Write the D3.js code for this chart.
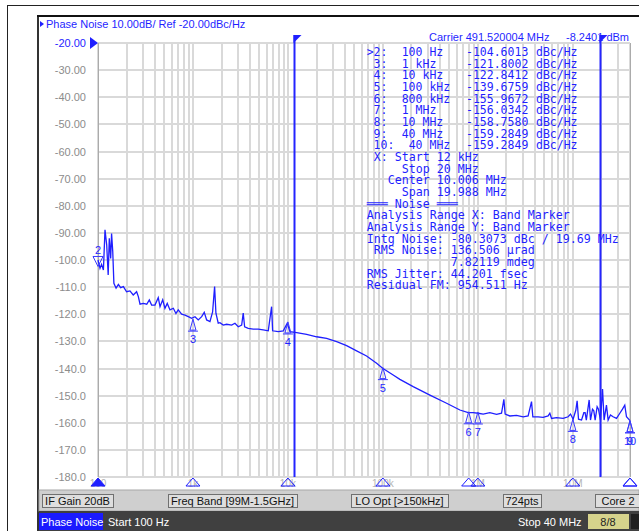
<!DOCTYPE html>
<html>
<head>
<meta charset="utf-8">
<script src="https://cdn.jsdelivr.net/npm/d3@7"></script>
<style>
body { margin: 0; background: #fff; }
svg { display: block; }
text { white-space: pre; }
</style>
</head>
<body>
<svg id="chart" width="639" height="531"></svg>
<script>
// trace (Hz, dBc/Hz)
var freqs = [100,105,109,114,118.5,123.5,128,131.5,136,139,143,147,155,164,173,185,200,217,235,255,266,277,300,326,347,367,398,431,450,480,507,536,573,621,662,700,760,824,893,968,1050,1137,1235,1315,1393,1510,1610,1690,1745,1845,1923,2084,2265,2554,2767,3000,3258,3383,3500,3819,4313,4866,5495,6207,6730,6900,7907,8933,9840,10500,12360,15740,20050,25530,32580,41500,52840,67300,85900,99300,128300,151000,208400,312600,468800,647000,791000,893000,1007000,1138000,1337000,1574000,1775000,1879000,1938000,2172000,2553000,3000000,3383000,3673000,3793000,4315000,4866000,5495000,5730000,5970000,6730000,7907000,8930000,9460000,10070000,10760000,11100000,11480000,12360000,13060000,13470000,13870000,14860000,15350000,16110000,16630000,17180000,18030000,18620000,19550000,20550000,21340000,22600000,23540000,24900000,26550000,28840000,31260000,33340000,35250000,36730000,40000000];
var noise = [-100.0,-103.1,-101.6,-103.7,-88.9,-94.5,-105.5,-92.0,-99.4,-90.2,-96.9,-108.6,-110.4,-109.0,-110.2,-109.8,-111.7,-111.4,-112.9,-111.7,-113.5,-116.3,-116.0,-116.3,-114.7,-116.6,-116.6,-113.9,-117.2,-114.7,-117.8,-116.0,-118.4,-117.8,-119.7,-118.4,-120.0,-120.3,-120.9,-121.5,-120.9,-122.1,-120.9,-119.3,-122.1,-122.7,-119.1,-109.8,-119.6,-123.3,-123.1,-124.0,-123.7,-124.0,-123.3,-124.6,-124.0,-119.6,-124.6,-125.2,-125.5,-125.5,-125.8,-126.1,-117.2,-126.1,-126.4,-126.1,-123.3,-126.4,-126.8,-127.4,-128.3,-128.9,-130.1,-131.6,-133.5,-135.4,-138.1,-139.9,-142.4,-144.0,-146.7,-149.8,-152.8,-155.3,-156.3,-156.3,-156.5,-156.8,-156.3,-156.9,-156.5,-151.4,-156.8,-157.5,-157.3,-157.8,-157.5,-152.2,-157.8,-157.8,-158.0,-157.5,-156.5,-158.4,-158.1,-158.4,-157.8,-156.8,-158.7,-155.3,-151.9,-158.7,-159.0,-156.3,-156.3,-159.0,-151.6,-159.0,-155.0,-155.6,-159.0,-154.1,-155.0,-159.0,-147.6,-159.0,-153.5,-159.0,-157.1,-157.8,-158.4,-156.5,-155.0,-153.5,-157.8,-159.2];

// markers
var markerIds = [2, 3, 4, 5, 6, 7, 8, 9, 10];
var markerFreqs = [100, 1e3, 1e4, 1e5, 8e5, 1e6, 1e7, 4e7, 4e7];
var markerVals = [-104.6013, -121.8002, -122.8412, -139.6759, -155.9672, -156.0342, -158.7580, -159.2849, -159.2849];
var markerFreqText = ["100 Hz", "1 kHz", "10 kHz", "100 kHz", "800 kHz", "1 MHz", "10 MHz", "40 MHz", "40 MHz"];

// band marker (integration range)
var bandFreqs = [12e3, 20e6];

// axes
var yTicks = [-20, -30, -40, -50, -60, -70, -80, -90, -100, -110, -120, -130, -140, -150, -160, -170, -180];
var yTickLabels = ["-20.00", "-30.00", "-40.00", "-50.00", "-60.00", "-70.00", "-80.00", "-90.00", "-100.0", "-110.0", "-120.0", "-130.0", "-140.0", "-150.0", "-160.0", "-170.0", "-180.0"];
var xTickFreqs = [100, 1e3, 1e4, 1e5, 1e6, 1e7];
var xTickLabels = ["100", "1k", "10k", "100k", "1M", "10M"];

var noiseText = [
	" X: Start 12 kHz",
	"     Stop 20 MHz",
	"   Center 10.006 MHz",
	"     Span 19.988 MHz",
	"═══ Noise ═══",
	"Analysis Range X: Band Marker",
	"Analysis Range Y: Band Marker",
	"Intg Noise: -80.3073 dBc / 19.69 MHz",
	" RMS Noise: 136.506 µrad",
	"            7.82119 mdeg",
	"RMS Jitter: 44.201 fsec",
	"Residual FM: 954.511 Hz"
];

var buttonLabels = ["IF Gain 20dB", "Freq Band [99M-1.5GHz]", "LO Opt [>150kHz]", "724pts", "Core 2"];
var buttonX = [42, 168, 351, 503, 595];
var buttonW = [71, 129, 97, 38, 46];

var blue = "#1f1fff";
var uiFont = "'Liberation Sans', Arial, sans-serif";
var monoFont = "'DejaVu Sans Mono', monospace";

var svg = d3.select("#chart");
var x = d3.scaleLog().domain([100, 4e7]).range([98, 630]);
var y = d3.scaleLinear().domain([-20, -180]).range([43, 477]);

// outer frame + instrument panel edges
svg.append("rect").attr("x", 7.5).attr("y", 5.5).attr("width", 660).attr("height", 560)
	.attr("fill", "none").attr("stroke", "#222");
svg.append("line").attr("x1", 38).attr("x2", 38).attr("y1", 16).attr("y2", 531)
	.attr("stroke", "#333").attr("stroke-width", 2);
svg.append("line").attr("x1", 37).attr("x2", 639).attr("y1", 16).attr("y2", 16)
	.attr("stroke", "#111").attr("stroke-width", 2);

// title
svg.append("path").attr("d", "M40,21 L44,24 L40,27 Z").attr("fill", blue);
svg.append("text").attr("x", 46).attr("y", 28).text("Phase Noise 10.00dB/ Ref -20.00dBc/Hz")
	.style("font-family", uiFont).style("font-size", "11px").attr("fill", blue);

// grid
var minor = [];
for (var dec = 100; dec <= 1e7; dec *= 10) {
	for (var k = 1; k <= 9; k++) {
		if (dec * k <= 4e7) minor.push(dec * k);
	}
}
minor.push(4e7);
var grid = svg.append("g").attr("stroke", "#d9d9d9").attr("stroke-width", 2);
grid.selectAll("line.v").data(minor).enter().append("line").attr("class", "v")
	.attr("x1", function (d) { return Math.round(x(d)); })
	.attr("x2", function (d) { return Math.round(x(d)); })
	.attr("y1", y(-20)).attr("y2", y(-180));
grid.selectAll("line.h").data(yTicks).enter().append("line").attr("class", "h")
	.attr("x1", x(100)).attr("x2", x(4e7))
	.attr("y1", function (d) { return Math.round(y(d)); })
	.attr("y2", function (d) { return Math.round(y(d)); });
// plot edges a little darker
svg.selectAll("line.edge").data([100, 4e7]).enter().append("line").attr("class", "edge")
	.attr("x1", function (d) { return Math.round(x(d)) + 0.5; })
	.attr("x2", function (d) { return Math.round(x(d)) + 0.5; })
	.attr("y1", y(-20)).attr("y2", y(-180))
	.attr("stroke", "#ababab");

// y labels
svg.append("g").selectAll("text").data(yTicks).enter().append("text")
	.attr("x", 86).attr("y", function (d) { return y(d) + 4; })
	.attr("text-anchor", "end")
	.style("font-family", uiFont).style("font-size", "11px")
	.attr("fill", function (d, i) { return i == 0 ? blue : "#8c8c8c"; })
	.text(function (d, i) { return yTickLabels[i]; });
svg.append("path").attr("d", "M90," + (y(-20) - 6) + " L98," + y(-20) + " L90," + (y(-20) + 6) + " Z").attr("fill", blue);

// x labels (light, under the marker triangles)
svg.append("g").selectAll("text").data(xTickFreqs).enter().append("text")
	.attr("x", function (d) { return x(d); }).attr("y", 487)
	.attr("text-anchor", "middle")
	.style("font-family", uiFont).style("font-size", "10px").attr("fill", "#b4b4b4")
	.text(function (d, i) { return xTickLabels[i]; });

// band marker lines with flags
var band = svg.append("g");
band.selectAll("line").data(bandFreqs).enter().append("line")
	.attr("x1", function (d) { return Math.round(x(d)) - 0.5; })
	.attr("x2", function (d) { return Math.round(x(d)) - 0.5; })
	.attr("y1", 35).attr("y2", y(-180))
	.attr("stroke", "#2424ff").attr("stroke-width", 2);
band.selectAll("path").data(bandFreqs).enter().append("path")
	.attr("d", function (d) { var px = Math.round(x(d)) - 1.5; return "M" + px + ",35 L" + (px + 8) + ",35 L" + px + ",43 Z"; })
	.attr("fill", blue);

// trace
var pts = freqs.map(function (f, i) { return [f, noise[i]]; });
svg.append("path").datum(pts)
	.attr("d", d3.line().x(function (d) { return x(d[0]); }).y(function (d) { return y(d[1]); }))
	.attr("fill", "none").attr("stroke", blue).attr("stroke-width", 1.3);

// markers on trace
markerIds.forEach(function (id, i) {
	var mx = x(markerFreqs[i]), my = y(markerVals[i]);
	var g = svg.append("g").attr("stroke", "#3a3aff").attr("fill", "none");
	if (id == 2) {
		var ty = my - 6;
		g.append("path").attr("d", "M" + (mx - 5) + "," + (ty - 10) + " L" + (mx + 5) + "," + (ty - 10) + " L" + mx + "," + ty + " Z");
		g.append("text").attr("x", mx).attr("y", ty - 12).attr("text-anchor", "middle").attr("stroke", "none").attr("fill", blue)
			.style("font-family", uiFont).style("font-size", "11px").text(id);
	} else {
		g.append("path").attr("d", "M" + mx + "," + my + " L" + (mx - 3) + "," + (my + 11) + " L" + (mx + 3) + "," + (my + 11) + " Z");
		g.append("line").attr("x1", mx - 5).attr("x2", mx + 5).attr("y1", my + 12).attr("y2", my + 12);
		g.append("text").attr("x", mx).attr("y", my + 24).attr("text-anchor", "middle").attr("stroke", "none").attr("fill", blue)
			.style("font-family", uiFont).style("font-size", "11px").text(id);
	}
	// triangle on frequency axis
	svg.append("path")
		.attr("d", "M" + (mx - 7) + ",486 L" + mx + ",478 L" + (mx + 7) + ",486 Z")
		.attr("fill", id == 2 ? blue : "none").attr("stroke", blue).attr("stroke-width", 1);
});

// marker readout table, one column at a time
var rowY = function (i) { return 56 + i * 11.67; };
var readout = svg.append("g").style("font-family", monoFont).style("font-size", "11.5px").attr("fill", blue);
markerIds.forEach(function (id, i) {
	var lbl = (i == 0 ? ">" : " ") + id + ":";
	var shift = id >= 10 ? 7 : 0;
	readout.append("text").attr("x", 366.7).attr("y", rowY(i)).text(lbl);
	readout.append("text").attr("x", 401.7 + shift).attr("y", rowY(i)).text(markerFreqText[i]);
	readout.append("text").attr("x", 466).attr("y", rowY(i)).text(markerVals[i].toFixed(4));
	readout.append("text").attr("x", 536).attr("y", rowY(i)).text("dBc/Hz");
});
// noise analysis lines below it
svg.append("g").selectAll("text").data(noiseText).enter().append("text")
	.attr("x", 366.7).attr("y", function (d, i) { return rowY(i + markerIds.length); })
	.style("font-family", monoFont).style("font-size", "11.63px").attr("fill", blue)
	.text(function (d) { return d; });

// carrier line
svg.append("text").attr("x", 429).attr("y", 41).text("Carrier 491.520004 MHz")
	.style("font-family", uiFont).style("font-size", "11px").attr("fill", blue);
svg.append("text").attr("x", 629).attr("y", 41).attr("text-anchor", "end").text("-8.2401 dBm")
	.style("font-family", uiFont).style("font-size", "11px").attr("fill", blue);

// softkey bar
svg.append("rect").attr("x", 39).attr("y", 490).attr("width", 600).attr("height", 21)
	.attr("fill", "#cfcfcf").attr("stroke", "#a8a8a8");
buttonLabels.forEach(function (lbl, i) {
	svg.append("rect").attr("x", buttonX[i] + 0.5).attr("y", 494.5).attr("width", buttonW[i]).attr("height", 13)
		.attr("fill", "#dedede").attr("stroke", "#707070");
	svg.append("text").attr("x", buttonX[i] + buttonW[i] / 2).attr("y", 505).attr("text-anchor", "middle")
		.style("font-family", uiFont).style("font-size", "11px").attr("fill", "#111").text(lbl);
});

// status bar
svg.append("rect").attr("x", 39).attr("y", 511).attr("width", 600).attr("height", 20).attr("fill", "#404040");
svg.append("rect").attr("x", 39).attr("y", 513).attr("width", 64).attr("height", 17).attr("fill", "#1a1aff");
svg.append("text").attr("x", 41).attr("y", 526).text("Phase Noise")
	.style("font-family", uiFont).style("font-size", "11px").attr("fill", "#fff");
svg.append("text").attr("x", 108).attr("y", 526).text("Start 100 Hz")
	.style("font-family", uiFont).style("font-size", "11px").attr("fill", "#fff");
svg.append("text").attr("x", 518).attr("y", 526).text("Stop 40 MHz")
	.style("font-family", uiFont).style("font-size", "11px").attr("fill", "#fff");
svg.append("rect").attr("x", 588).attr("y", 514).attr("width", 41).attr("height", 15).attr("fill", "#d6d38c");
svg.append("text").attr("x", 608).attr("y", 526).attr("text-anchor", "middle").text("8/8")
	.style("font-family", uiFont).style("font-size", "11px").attr("fill", "#222");
svg.append("rect").attr("x", 631).attr("y", 514).attr("width", 8).attr("height", 15).attr("fill", "#202020");
</script>
</body>
</html>
